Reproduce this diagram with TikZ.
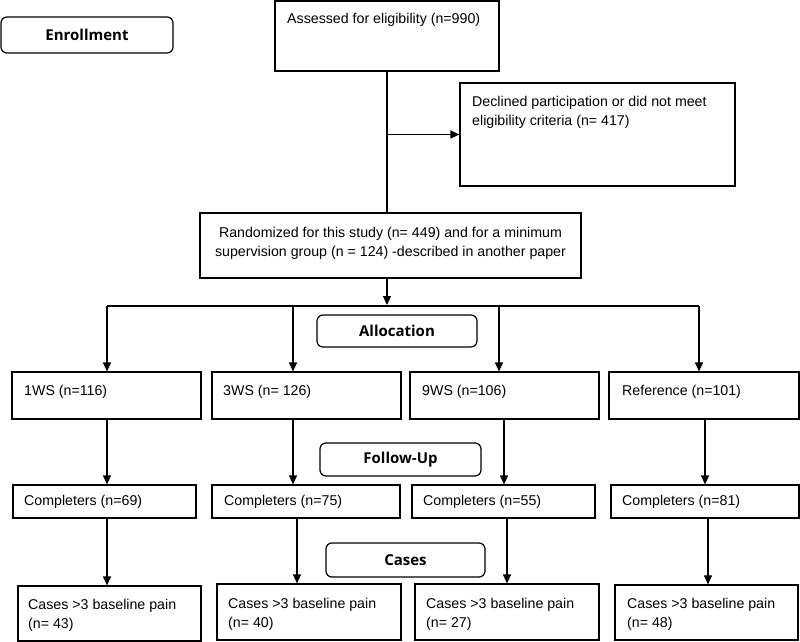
\documentclass[tikz,border=0pt]{standalone}
\usepackage{fontspec}
\setmainfont{Liberation Sans}
\newfontfamily\headfont{Open Sans}
\usetikzlibrary{arrows.meta,calc}
\begin{document}
\begin{tikzpicture}[x=1pt,y=-1pt,
  box/.style={draw, line width=1.2pt, inner sep=0pt},
  hbox/.style={draw, line width=1.2pt, rounded corners=6pt, inner sep=0pt, font=\headfont\bfseries\fontsize{15}{18}\selectfont},
  txt/.style={inner sep=0pt, align=left, anchor=west, font=\fontsize{14.2}{19}\selectfont},
  arr/.style={line width=1.2pt, -{Triangle[length=9pt,width=8pt]}},
  ln/.style={line width=1.2pt}]
\useasboundingbox (0,0) rectangle (800,642);
% headings
\node[hbox, minimum width=172pt, minimum height=36pt] (enroll) at (87,35) {Enrollment};
\node[hbox, minimum width=160pt, minimum height=32pt] (alloc) at (397,331) {Allocation};
\node[hbox, minimum width=161pt, minimum height=33pt] (follow) at (400.5,459.5) {Follow-Up};
\node[hbox, minimum width=159pt, minimum height=34pt] (cases) at (405.5,560) {Cases};
% top boxes
\node[box, minimum width=224pt, minimum height=70pt] (assess) at (387,36) {};
\node[txt] (assesst) at (287,20) {Assessed for eligibility (n=990)};
\node[box, minimum width=275pt, minimum height=103pt] (decl) at (597.5,134.5) {};
\node[txt] (declt) at (472,112.5) {Declined participation or did not meet\\eligibility criteria (n= 417)};
\node[box, minimum width=381pt, minimum height=65pt] (rand) at (390.5,245.5) {};
\node[txt, anchor=center, align=center] (randt) at (390.5,243) {Randomized for this study (n= 449) and for a minimum\\supervision group (n = 124) -described in another paper};
% groups
\node[box, minimum width=189pt, minimum height=47pt] (g1) at (106.5,395.5) {};
\node[box, minimum width=189pt, minimum height=47pt] (g2) at (306.5,395.5) {};
\node[box, minimum width=189pt, minimum height=47pt] (g3) at (504.5,395.5) {};
\node[box, minimum width=190pt, minimum height=47pt] (g4) at (704,395.5) {};
\node[txt] (g1t) at (24,392) {1WS (n=116)};
\node[txt] (g2t) at (223,392) {3WS (n= 126)};
\node[txt] (g3t) at (422,392) {9WS (n=106)};
\node[txt] (g4t) at (622,392) {Reference (n=101)};
% completers
\node[box, minimum width=183pt, minimum height=33pt] (c1) at (104.5,501.5) {};
\node[box, minimum width=188pt, minimum height=33pt] (c2) at (306,501.5) {};
\node[box, minimum width=183pt, minimum height=33pt] (c3) at (503.5,501.5) {};
\node[box, minimum width=188pt, minimum height=33pt] (c4) at (705,501.5) {};
\node[txt] (c1t) at (24,502) {Completers (n=69)};
\node[txt] (c2t) at (224,502) {Completers (n=75)};
\node[txt] (c3t) at (423,502) {Completers (n=55)};
\node[txt] (c4t) at (622,502) {Completers (n=81)};
% cases
\node[box, minimum width=183pt, minimum height=55pt] (k1) at (109.5,613.5) {};
\node[box, minimum width=184pt, minimum height=56pt] (k2) at (309,612) {};
\node[box, minimum width=184pt, minimum height=56pt] (k3) at (507,612) {};
\node[box, minimum width=183pt, minimum height=55pt] (k4) at (706.5,612.5) {};
\node[txt] (k1t) at (28,615) {Cases >3 baseline pain\\(n= 43)};
\node[txt] (k2t) at (228,614) {Cases >3 baseline pain\\(n= 40)};
\node[txt] (k3t) at (426,614) {Cases >3 baseline pain\\(n= 27)};
\node[txt] (k4t) at (627,614) {Cases >3 baseline pain\\(n= 48)};
% connectors
\coordinate (split) at (387,306);
\coordinate (bl) at (107,306);
\coordinate (br) at (699,306);
\draw[ln] (assess.south -| split) -- (rand.north -| split);
\draw[arr] (split |- decl.west) -- (decl.west);
\draw[arr] (rand.south -| split) -- ([yshift=1pt]split);
\draw[ln] (bl) -- (br);
\draw[arr] (bl) -- (g1.north -| bl);
\draw[arr] (293,306) -- (g2.north -| 293,0);
\draw[arr] (499,306) -- (g3.north -| 499,0);
\draw[arr] (br) -- (g4.north -| br);
\draw[arr] (g1.south -| 107,0) -- (c1.north -| 107,0);
\draw[arr] (g2.south -| 293,0) -- (c2.north -| 293,0);
\draw[arr] (g3.south -| 504,0) -- (c3.north -| 504,0);
\draw[arr] (g4.south -| 705,0) -- (c4.north -| 705,0);
\draw[arr] (c1.south -| 107,0) -- (k1.north -| 107,0);
\draw[arr] (c2.south -| 297,0) -- (k2.north -| 297,0);
\draw[arr] (c3.south -| 507,0) -- (k3.north -| 507,0);
\draw[arr] (c4.south -| 708,0) -- (k4.north -| 708,0);
\end{tikzpicture}
\end{document}
